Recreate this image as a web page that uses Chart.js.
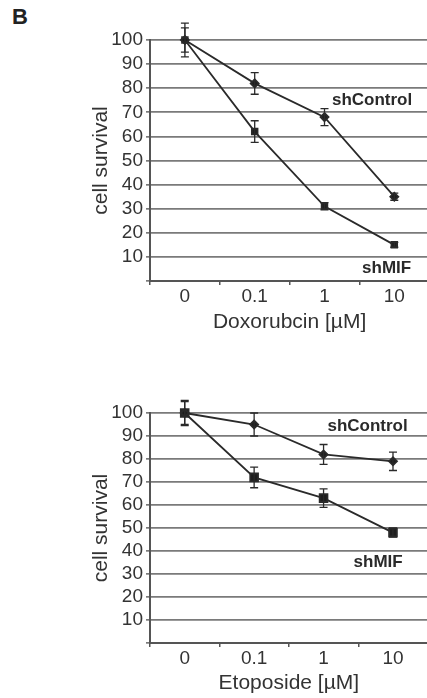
<!DOCTYPE html>
<html>
<head>
<meta charset="utf-8">
<script src="https://cdn.jsdelivr.net/npm/chart.js@4.4.0/dist/chart.umd.min.js"></script>
<style>
  html, body { margin: 0; padding: 0; background: #fff; overflow: hidden; }
  body { width: 427px; height: 698px; position: relative; }
  #panel { position: absolute; left: 12px; top: 4px; font: bold 22px "Liberation Sans", Arial, sans-serif; color: #222; }
  canvas { position: absolute; }
</style>
</head>
<body>
<div id="panel">B</div>
<canvas id="chart_doxo" width="346" height="335" style="left:89px; top:0px;"></canvas>
<canvas id="chart_eto" width="346" height="326" style="left:89px; top:370px;"></canvas>
<script>
// doses on the x axis
const doses = ["0", "0.1", "1", "10"];
const yTicks = [0, 10, 20, 30, 40, 50, 60, 70, 80, 90, 100];

// Doxorubicin panel
const doxoControl = [100, 82, 68, 35];
const doxoControlErr = [7, 4.5, 3.5, 1.5];
const doxoMIF = [100, 62, 31, 15];
const doxoMIFErr = [5, 4.5, 1.5, 1];

// Etoposide panel
const etoControl = [100, 95, 82, 79];
const etoControlErr = [5.5, 5, 4.3, 4];
const etoMIF = [100, 72, 63, 48];
const etoMIFErr = [5, 4.5, 4, 2];

const FONT = "'Liberation Sans', Arial, sans-serif";
const INK = "#2a2a2a";
const TEXT = "#333";

// draws the error bars and the series names
const errorBars = {
	id: "errorBars",
	afterDatasetsDraw(chart, args, opts) {
		const ctx = chart.ctx;
		const y = chart.scales.y;
		ctx.save();
		ctx.strokeStyle = INK;
		ctx.lineWidth = 1.3;
		chart.data.datasets.forEach(function(ds, di) {
			const meta = chart.getDatasetMeta(di);
			ds.data.forEach(function(v, i) {
				const x = meta.data[i].x;
				const top = y.getPixelForValue(v + ds.err[i]);
				const bot = y.getPixelForValue(v - ds.err[i]);
				ctx.beginPath();
				ctx.moveTo(x, top); ctx.lineTo(x, bot);
				ctx.moveTo(x - 4, top); ctx.lineTo(x + 4, top);
				ctx.moveTo(x - 4, bot); ctx.lineTo(x + 4, bot);
				ctx.stroke();
			});
		});
		ctx.fillStyle = INK;
		ctx.font = "bold 17px " + FONT;
		ctx.textAlign = "right";
		ctx.textBaseline = "middle";
		opts.labels.forEach(function(l) {
			ctx.fillText(l.text, chart.chartArea.right - l.dx, y.getPixelForValue(l.at));
		});
		ctx.restore();
	}
};

function drawChart(id, title, control, controlErr, mif, mifErr, padTop, xHeight, labels, markerSize) {
	var config = {
		type: "line",
		data: {
			labels: doses,
			datasets: [{
				label: "shControl",
				data: control,
				err: controlErr,
				borderColor: INK,
				borderWidth: 1.8,
				backgroundColor: "#1e1e1e",
				pointStyle: "rectRot",
				pointRadius: 4,
				clip: false
			}, {
				label: "shMIF",
				data: mif,
				err: mifErr,
				borderColor: INK,
				borderWidth: 1.8,
				backgroundColor: "#1e1e1e",
				pointStyle: "rect",
				pointRadius: markerSize,
				clip: false
			}]
		},
		options: {
			responsive: false,
			animation: false,
			devicePixelRatio: 1,
			layout: { padding: { top: padTop, left: 0, right: 0, bottom: 0 } },
			plugins: {
				legend: { display: false },
				tooltip: { enabled: false },
				errorBars: { labels: labels }
			},
			scales: {
				x: {
					offset: true,
					afterFit: function(s) { s.height = xHeight; },
					grid: { drawOnChartArea: false, offset: true, tickLength: 4, color: "#555", lineWidth: 1.5 },
					border: { color: "#555", width: 2 },
					ticks: { color: TEXT, padding: 0, font: { family: FONT, size: 19 } },
					title: { display: true, text: title, color: TEXT, padding: 0, font: { family: FONT, size: 21 } }
				},
				y: {
					min: 0,
					max: 100,
					afterFit: function(s) { s.width = 61; },
					afterBuildTicks: function(s) { s.ticks = yTicks.map(function(v) { return { value: v }; }); },
					grid: { tickLength: 4, color: "#7a7a7a", lineWidth: 1.7 },
					border: { color: "#555", width: 2 },
					ticks: {
						color: TEXT,
						padding: 3,
						autoSkip: false,
						font: { family: FONT, size: 19 },
						callback: function(v) { return v === 0 ? "" : v; }
					},
					title: { display: true, text: "cell survival", color: TEXT, padding: 0, font: { family: FONT, size: 21 } }
				}
			}
		},
		plugins: [errorBars]
	};
	return new Chart(document.getElementById(id), config);
}

drawChart("chart_doxo", "Doxorubcin [\u00b5M]", doxoControl, doxoControlErr, doxoMIF, doxoMIFErr, 40, 54,
	[{ text: "shControl", at: 75, dx: 17 }, { text: "shMIF", at: 5.4, dx: 18 }], 4);
drawChart("chart_eto", "Etoposide [\u00b5M]", etoControl, etoControlErr, etoMIF, etoMIFErr, 43, 53,
	[{ text: "shControl", at: 94, dx: 20 }, { text: "shMIF", at: 35, dx: 25 }], 5.5);
</script>
</body>
</html>
